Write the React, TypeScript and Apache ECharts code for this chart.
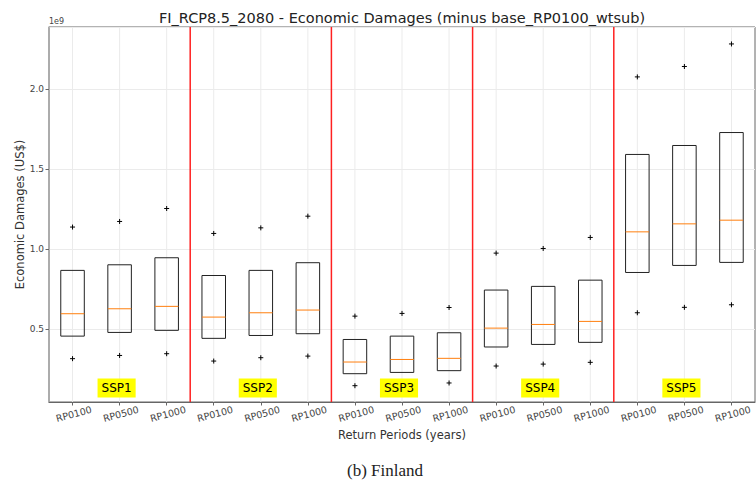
import { useEffect, useRef } from "react";
import * as echarts from "echarts";

// Return periods per SSP group (x categories)
const categories = [
  "RP0100", "RP0500", "RP1000",
  "RP0100", "RP0500", "RP1000",
  "RP0100", "RP0500", "RP1000",
  "RP0100", "RP0500", "RP1000",
  "RP0100", "RP0500", "RP1000",
];
const groupLabels = ["SSP1", "SSP2", "SSP3", "SSP4", "SSP5"];
const groupCenterIndex = [1, 4, 7, 10, 13];
const separatorAfterIndex = [2, 5, 8, 11];

// Values in units of 1e9 US$
const q1 = [
  0.456, 0.479, 0.492,
  0.442, 0.46, 0.471,
  0.221, 0.229, 0.24,
  0.388, 0.404, 0.417,
  0.854, 0.898, 0.917,
];
const median = [
  0.596, 0.627, 0.642,
  0.575, 0.602, 0.619,
  0.294, 0.31, 0.317,
  0.506, 0.529, 0.548,
  1.108, 1.158, 1.181,
];
const q3 = [
  0.867, 0.902, 0.946,
  0.835, 0.867, 0.915,
  0.435, 0.456, 0.477,
  0.744, 0.767, 0.806,
  1.592, 1.648, 1.729,
];
const lowPoints = [
  0.315, 0.335, 0.346,
  0.3, 0.321, 0.331,
  0.146, 0.153, 0.163,
  0.269, 0.281, 0.292,
  0.602, 0.636, 0.652,
];
const highPoints = [
  1.138, 1.173, 1.254,
  1.098, 1.133, 1.206,
  0.581, 0.598, 0.635,
  0.975, 1.004, 1.073,
  2.077, 2.142, 2.283,
];
const yMin = 0.044;
const yMax = 2.389;

const FONT = "DejaVu Sans";

export default function App() {
  const ref = useRef<HTMLDivElement>(null);

  useEffect(() => {
    document.body.style.margin = "0";
    if (!ref.current) return;
    const chart = echarts.init(ref.current, null, { renderer: "svg" });

    const boxData = categories.map((_, i) => [i, q1[i], median[i], q3[i], lowPoints[i], highPoints[i]]);

    const option: any = {
      animation: false,
      backgroundColor: "#ffffff",
      grid: {
        left: 49,
        top: 27,
        right: 1,
        bottom: 84,
        show: true,
        borderColor: "#666",
        borderWidth: 1,
        backgroundColor: "transparent",
      },
      xAxis: {
        type: "category",
        data: categories,
        boundaryGap: true,
        name: "Return Periods (years)",
        nameLocation: "middle",
        nameGap: 27,
        nameMoveOverlap: false,
        nameTextStyle: { fontFamily: FONT, fontSize: 11.5, color: "#333" },
        axisLine: { show: true, lineStyle: { color: "#666", width: 1 } },
        axisTick: { show: true, alignWithLabel: true, length: 3.5, lineStyle: { color: "#666" } },
        axisLabel: {
          rotate: 15,
          align: "center",
          verticalAlign: "top",
          fontFamily: FONT,
          fontSize: 9.5,
          color: "#444",
          margin: 7,
          interval: 0,
        },
        splitLine: { show: false },
      },
      yAxis: {
        type: "value",
        min: yMin,
        max: yMax,
        minInterval: 0.5,
        maxInterval: 0.5,
        name: "Economic Damages (US$)",
        nameLocation: "middle",
        nameGap: 23,
        nameMoveOverlap: false,
        nameTextStyle: { fontFamily: FONT, fontSize: 11.5, color: "#333" },
        axisLine: { show: true, lineStyle: { color: "#aaa", width: 1.5 } },
        axisTick: { show: true, length: 3.5, lineStyle: { color: "#666" } },
        axisLabel: {
          fontFamily: FONT,
          fontSize: 9,
          color: "#444",
          margin: 5,
          showMinLabel: false,
          showMaxLabel: false,
          formatter: (v: number) => v.toFixed(1),
        },
        splitLine: { show: true, lineStyle: { color: "#ebebeb", width: 1 } },
      },
      series: [
        {
          type: "custom",
          name: "boxes",
          z: 2,
          data: boxData,
          clip: false,
          renderItem: (params: any, api: any) => {
            const i = api.value(0);
            const bw = api.size([1, 0])[0] * 0.5;
            const x = api.coord([i, api.value(1)])[0];
            const yQ1 = api.coord([i, api.value(1)])[1];
            const yMed = api.coord([i, api.value(2)])[1];
            const yQ3 = api.coord([i, api.value(3)])[1];
            const yLo = api.coord([i, api.value(4)])[1];
            const yHi = api.coord([i, api.value(5)])[1];
            const cs = params.coordSys;
            const arm = 2.5;
            const cross = (y: number) => [
              { type: "line", shape: { x1: x - arm, y1: y, x2: x + arm, y2: y }, style: { stroke: "#000", lineWidth: 1 } },
              { type: "line", shape: { x1: x, y1: y - arm, x2: x, y2: y + arm }, style: { stroke: "#000", lineWidth: 1 } },
            ];
            return {
              type: "group",
              children: [
                {
                  type: "line",
                  shape: { x1: x, y1: cs.y, x2: x, y2: cs.y + cs.height },
                  style: { stroke: "#ebebeb", lineWidth: 1 },
                },
                {
                  type: "rect",
                  shape: { x: x - bw / 2, y: yQ3, width: bw, height: yQ1 - yQ3 },
                  style: { fill: "none", stroke: "#222", lineWidth: 1 },
                },
                {
                  type: "line",
                  shape: { x1: x - bw / 2, y1: yMed, x2: x + bw / 2, y2: yMed },
                  style: { stroke: "#ff7f0e", lineWidth: 1 },
                },
                ...cross(yLo),
                ...cross(yHi),
              ],
            };
          },
        },
        {
          type: "custom",
          name: "separators",
          z: 3,
          data: separatorAfterIndex.map((i) => [i]),
          renderItem: (params: any, api: any) => {
            const i = api.value(0);
            const cs = params.coordSys;
            const x = (api.coord([i, yMin])[0] + api.coord([i + 1, yMin])[0]) / 2;
            return {
              type: "line",
              shape: { x1: x, y1: cs.y, x2: x, y2: cs.y + cs.height },
              style: { stroke: "#ff2020", lineWidth: 1.5 },
            };
          },
        },
        {
          type: "custom",
          name: "groupLabels",
          z: 5,
          data: groupCenterIndex.map((ci, g) => [ci, groupLabels[g]]),
          renderItem: (params: any, api: any) => {
            const i = api.value(0);
            const cs = params.coordSys;
            const x = api.coord([i, yMin])[0] - 3;
            return {
              type: "text",
              z2: 10,
              style: {
                text: groupLabels[params.dataIndex],
                x: x,
                y: cs.y + cs.height - 14,
                align: "center",
                verticalAlign: "middle",
                fontFamily: FONT,
                fontSize: 12,
                fill: "#000",
                backgroundColor: "#ffff00",
                padding: [4, 4, 3, 4],
              },
            };
          },
        },
      ],
      graphic: [
        {
          type: "text",
          x: 402,
          y: 18,
          style: {
            text: "FI_RCP8.5_2080 - Economic Damages (minus base_RP0100_wtsub)",
            align: "center",
            verticalAlign: "middle",
            fontFamily: FONT,
            fontSize: 14.5,
            fill: "#222",
          },
        },
        {
          type: "text",
          x: 49,
          y: 21,
          style: {
            text: "1e9",
            align: "left",
            verticalAlign: "middle",
            fontFamily: FONT,
            fontSize: 8,
            fill: "#444",
          },
        },
        {
          type: "text",
          x: 385,
          y: 470,
          style: {
            text: "(b) Finland",
            align: "center",
            verticalAlign: "middle",
            fontFamily: "Liberation Serif",
            fontSize: 17,
            fill: "#222",
          },
        },
      ],
    };

    chart.setOption(option);
    return () => chart.dispose();
  }, []);

  return <div ref={ref} style={{ width: 756, height: 486 }} />;
}
